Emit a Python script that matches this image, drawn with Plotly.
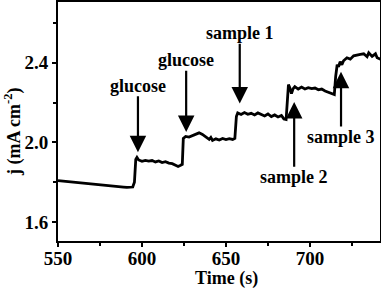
import plotly.graph_objects as go

time_s = [550, 554, 558, 562, 566, 570, 574, 578, 582, 586, 589, 591, 593, 594.5, 595.5, 596.3, 597, 598,
          600, 602, 604, 606, 608, 610, 612, 614, 616, 618, 620, 621.5, 623, 624, 624.6, 626, 628,
          630, 632, 634, 636, 638, 640, 641, 642, 644, 646, 648, 650, 652, 654, 655.3, 656.2, 657, 659,
          661, 663, 665, 667, 669, 671, 673, 675, 677, 679, 681, 683, 684.5, 685.8, 686.4, 687.2, 688,
          689, 690, 691, 693, 695, 697, 699, 701, 703, 705, 707, 709, 711, 713, 714.5, 715.3, 716.2,
          717, 718, 719, 720, 722, 724, 726, 728, 730, 732, 734, 735, 737, 739, 740, 742]
current = [1.808, 1.805, 1.800, 1.798, 1.795, 1.792, 1.789, 1.787, 1.785, 1.782, 1.776, 1.774, 1.773, 1.776,
           1.800, 1.915, 1.925, 1.912, 1.905, 1.910, 1.906, 1.909, 1.902, 1.907, 1.899, 1.903, 1.896, 1.893,
           1.885, 1.879, 1.885, 1.890, 2.020, 2.030, 2.027, 2.034, 2.040, 2.048, 2.040, 2.025, 2.015, 2.025,
           2.010, 2.018, 2.012, 2.020, 2.014, 2.019, 2.015, 2.020, 2.130, 2.148, 2.140, 2.150, 2.141, 2.146,
           2.138, 2.148, 2.140, 2.133, 2.143, 2.130, 2.138, 2.128, 2.135, 2.118, 2.115, 2.220, 2.290, 2.275,
           2.245, 2.270, 2.280, 2.268, 2.278, 2.268, 2.275, 2.270, 2.273, 2.264, 2.268, 2.258, 2.250, 2.243,
           2.240, 2.330, 2.390, 2.380, 2.405, 2.390, 2.410, 2.425, 2.418, 2.435, 2.440, 2.442, 2.445, 2.430,
           2.450, 2.432, 2.445, 2.425, 2.418]

# annotations: label, arrow x, text (tail) y, tip y
labels = ["glucose", "glucose", "sample 1", "sample 2", "sample 3"]
arrow_x = [597.6, 626.3, 658.2, 690.6, 718.5]
text_y = [2.285, 2.413, 2.548, 1.825, 2.027]
arrow_tip = [1.951, 2.052, 2.195, 2.203, 2.355]

FONT = "Liberation Serif"
SIZE = 18
TICK_SIZE = 19

fig = go.Figure()
fig.add_trace(go.Scatter(x=time_s, y=current, mode="lines",
                         line=dict(color="black", width=2.8), showlegend=False))

for lab, xa, ty, tip in zip(labels, arrow_x, text_y, arrow_tip):
    fig.add_annotation(x=xa, y=tip, ax=xa, ay=ty, xref="x", yref="y", axref="x", ayref="y",
                       text=lab, showarrow=True, arrowhead=2, arrowsize=1.5, arrowwidth=2.2,
                       arrowcolor="black", borderpad=0,
                       font=dict(family=FONT, size=SIZE, color="black", weight="bold"))

PT, PB, PL, PR = 2, 241, 58, 380
fig.add_annotation(x=(13 - PL) / (PR - PL), y=1 - (132 - PT) / (PB - PT), xref="paper", yref="paper",
                   xanchor="center", yanchor="middle",
                   text="j (mA cm<sup>-2</sup>)", showarrow=False, textangle=-90,
                   font=dict(family=FONT, size=SIZE, color="black", weight="bold"))
fig.add_annotation(x=(226 - PL) / (PR - PL), y=1 - (278 - PT) / (PB - PT), xref="paper", yref="paper",
                   xanchor="center", yanchor="middle",
                   text="Time (s)", showarrow=False,
                   font=dict(family=FONT, size=SIZE, color="black", weight="bold"))

axis_common = dict(showline=True, linewidth=2, linecolor="black", mirror=True,
                   ticks="outside", ticklen=4, tickwidth=2, tickcolor="black",
                   showgrid=False, zeroline=False,
                   tickfont=dict(family=FONT, size=TICK_SIZE, color="black", weight="bold"))

fig.update_xaxes(range=[550, 741.7], tick0=550, dtick=50, ticklabelstandoff=-5,
                 minor=dict(dtick=25, tick0=550, ticks="outside", ticklen=3, tickwidth=2, tickcolor="black"),
                 **axis_common)
fig.update_yaxes(range=[1.505, 2.705], tick0=1.6, dtick=0.4, tickformat=".1f",
                 minor=dict(dtick=0.2, tick0=1.6, ticks="outside", ticklen=3, tickwidth=2, tickcolor="black"),
                 **axis_common)

fig.update_layout(width=381, height=289,
                  margin=dict(l=PL, r=381 - PR, t=PT, b=289 - PB, autoexpand=False),
                  plot_bgcolor="white", paper_bgcolor="white")

fig.write_html("out.html", config={"displayModeBar": False},
               post_script="document.body.style.margin='0';")
